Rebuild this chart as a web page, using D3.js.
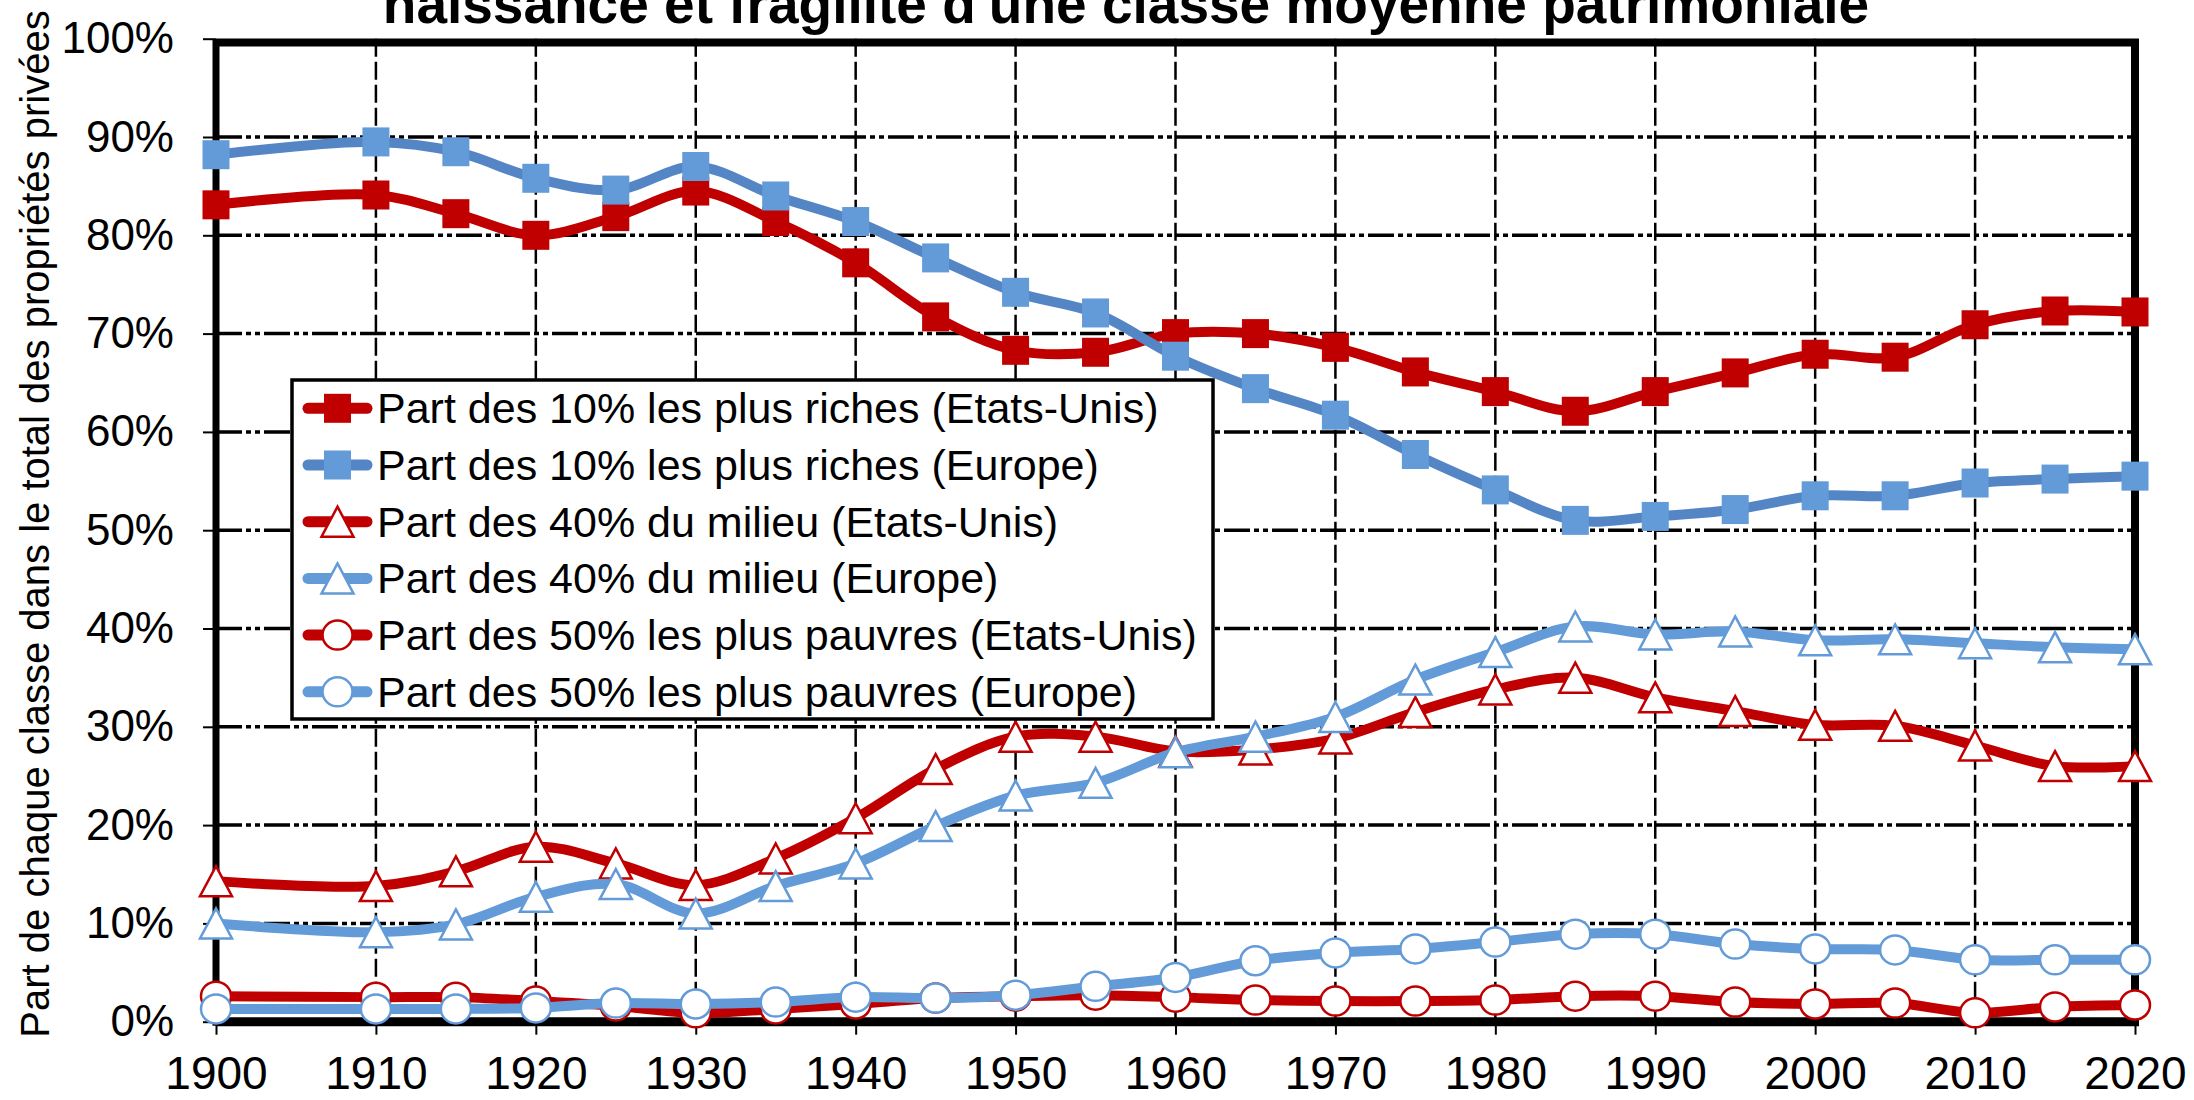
<!DOCTYPE html>
<html>
<head>
<meta charset="utf-8">
<script src="https://cdn.jsdelivr.net/npm/d3@7.9.0/dist/d3.min.js"></script>
<style>
  body { margin: 0; background: #fff; }
  svg { display: block; }
  text { font-family: "Liberation Sans", Arial, sans-serif; fill: #000; }
</style>
</head>
<body>
<svg id="chart" width="2194" height="1100"></svg>
<script>
const years = [1900, 1910, 1915, 1920, 1925, 1930, 1935, 1940, 1945, 1950, 1955, 1960,
  1965, 1970, 1975, 1980, 1985, 1990, 1995, 2000, 2005, 2010, 2015, 2020];

const usTop10 = [83.1, 84.1, 82.2, 80.0, 81.9, 84.5, 81.4, 77.2, 71.7, 68.3, 68.1, 70.0,
  70.0, 68.6, 66.1, 64.1, 62.1, 64.1, 66.0, 67.9, 67.6, 70.9, 72.3, 72.2];
const euTop10 = [88.2, 89.5, 88.5, 85.8, 84.6, 87.0, 84.0, 81.4, 77.7, 74.2, 72.1, 67.7,
  64.4, 61.7, 57.7, 54.1, 51.0, 51.4, 52.1, 53.5, 53.5, 54.8, 55.2, 55.5];
const usMid40 = [14.3, 13.8, 15.3, 17.8, 16.1, 13.9, 16.6, 20.7, 25.7, 29.0, 29.0, 27.5,
  27.7, 28.8, 31.5, 33.8, 35.0, 33.0, 31.6, 30.2, 30.1, 28.1, 26.0, 26.0];
const euMid40 = [10.0, 9.1, 9.9, 12.7, 14.0, 11.0, 13.8, 16.1, 19.9, 23.0, 24.3, 27.4,
  29.0, 31.0, 34.8, 37.6, 40.2, 39.4, 39.7, 38.8, 38.9, 38.5, 38.1, 37.9];
const usBot50 = [2.6, 2.5, 2.5, 2.1, 1.6, 0.9, 1.3, 1.8, 2.4, 2.6, 2.7, 2.5,
  2.2, 2.1, 2.1, 2.2, 2.6, 2.6, 2.0, 1.8, 1.9, 0.9, 1.5, 1.7];
const euBot50 = [1.3, 1.3, 1.3, 1.4, 1.9, 1.8, 2.0, 2.5, 2.4, 2.7, 3.6, 4.5,
  6.2, 7.0, 7.4, 8.1, 8.9, 8.9, 7.9, 7.4, 7.3, 6.3, 6.3, 6.3];

const seriesNames = [
  'Part des 10% les plus riches (Etats-Unis)',
  'Part des 10% les plus riches (Europe)',
  'Part des 40% du milieu (Etats-Unis)',
  'Part des 40% du milieu (Europe)',
  'Part des 50% les plus pauvres (Etats-Unis)',
  'Part des 50% les plus pauvres (Europe)'
];
const xTicks = [1900, 1910, 1920, 1930, 1940, 1950, 1960, 1970, 1980, 1990, 2000, 2010, 2020];
const yTicks = [0, 10, 20, 30, 40, 50, 60, 70, 80, 90, 100];

const title = 'naissance et fragilité d\'une classe moyenne patrimoniale';
const yTitle = 'Part de chaque classe dans le total des propriétés privées';

const red = '#c00000';
const blueLine = '#5486c6';
const blueMark = '#629bd8';

const series = [
  { name: seriesNames[0], values: usTop10, line: red, mark: 'square', fill: red, stroke: red },
  { name: seriesNames[1], values: euTop10, line: blueLine, mark: 'square', fill: blueMark, stroke: blueMark },
  { name: seriesNames[2], values: usMid40, line: red, mark: 'triangle', fill: '#fff', stroke: red },
  { name: seriesNames[3], values: euMid40, line: blueMark, mark: 'triangle', fill: '#fff', stroke: blueMark },
  { name: seriesNames[4], values: usBot50, line: red, mark: 'circle', fill: '#fff', stroke: red },
  { name: seriesNames[5], values: euBot50, line: blueMark, mark: 'circle', fill: '#fff', stroke: blueMark }
];

const svg = d3.select('#chart');

const x = d3.scaleLinear().domain([1900, 2020]).range([216, 2135]);
const y = d3.scaleLinear().domain([0, 100]).range([1021.7, 38.7]);

// grid
const grid = svg.append('g');
grid.selectAll('line.h')
  .data(yTicks.filter(d => d > 0 && d < 100))
  .join('line')
  .attr('x1', x(1900)).attr('x2', x(2020))
  .attr('y1', d => y(d)).attr('y2', d => y(d))
  .attr('stroke', '#000').attr('stroke-width', 3.5)
  .attr('stroke-dasharray', '26,4,5,4,5,4');
grid.selectAll('line.v')
  .data(xTicks.filter(d => d > 1900 && d < 2020))
  .join('line')
  .attr('x1', d => x(d)).attr('x2', d => x(d))
  .attr('y1', y(100)).attr('y2', y(0))
  .attr('stroke', '#000').attr('stroke-width', 2.5)
  .attr('stroke-dasharray', '18,5');

// axes
const yAxis = svg.append('g')
  .attr('transform', `translate(${x(1900)},0)`)
  .call(d3.axisLeft(y).tickValues(yTicks).tickFormat(d => d + '%').tickSize(13).tickPadding(29));
yAxis.select('.domain').remove();
yAxis.selectAll('line').attr('stroke', '#000').attr('stroke-width', 2);
yAxis.selectAll('text').attr('font-size', 44).attr('font-family', '"Liberation Sans", Arial, sans-serif');

// labels kept just inside the bottom edge
const xAxis = svg.append('g')
  .attr('transform', `translate(0,${y(0)})`)
  .call(d3.axisBottom(x).tickValues(xTicks).tickFormat(d3.format('d')).tickSize(13).tickPadding(22));
xAxis.select('.domain').remove();
xAxis.selectAll('line').attr('stroke', '#000').attr('stroke-width', 2);
xAxis.selectAll('text').attr('font-size', 46).attr('font-family', '"Liberation Sans", Arial, sans-serif');

// frame
svg.append('line').attr('x1', x(1900)).attr('x2', x(2020) + 4).attr('y1', 42.5).attr('y2', 42.5)
  .attr('stroke', '#000').attr('stroke-width', 8);
svg.append('line').attr('x1', x(2020)).attr('x2', x(2020)).attr('y1', 39).attr('y2', y(0))
  .attr('stroke', '#000').attr('stroke-width', 8);
svg.append('line').attr('x1', x(1900)).attr('x2', x(1900)).attr('y1', 39).attr('y2', y(0) + 4)
  .attr('stroke', '#000').attr('stroke-width', 7);
svg.append('line').attr('x1', x(1900)).attr('x2', x(2020) + 4).attr('y1', y(0)).attr('y2', y(0))
  .attr('stroke', '#000').attr('stroke-width', 9);

// markers
function drawMark(g, s, cx, cy) {
  if (s.mark === 'square') {
    g.append('rect')
      .attr('x', cx - 13.5).attr('y', cy - 14.5)
      .attr('width', 27).attr('height', 29)
      .attr('fill', s.fill);
  } else if (s.mark === 'triangle') {
    g.append('path')
      .attr('d', `M${cx},${cy - 15}L${cx + 16},${cy + 15}L${cx - 16},${cy + 15}Z`)
      .attr('fill', s.fill).attr('stroke', s.stroke).attr('stroke-width', 2.5);
  } else {
    g.append('ellipse')
      .attr('cx', cx).attr('cy', cy).attr('rx', 15).attr('ry', 14.5)
      .attr('fill', s.fill).attr('stroke', s.stroke).attr('stroke-width', 2.5);
  }
}

const line = d3.line()
  .x((d, i) => x(years[i]))
  .y(d => y(d))
  .curve(d3.curveCatmullRom.alpha(0.5));

series.forEach(s => {
  const g = svg.append('g');
  g.append('path')
    .attr('d', line(s.values))
    .attr('fill', 'none')
    .attr('stroke', s.line)
    .attr('stroke-width', 10)
    .attr('stroke-linejoin', 'round')
    .attr('stroke-linecap', 'round');
  s.values.forEach((v, i) => drawMark(g, s, x(years[i]), y(v)));
});

// legend
const legend = svg.append('g');
legend.append('rect')
  .attr('x', 292).attr('y', 380).attr('width', 921).attr('height', 339)
  .attr('fill', '#fff').attr('stroke', '#000').attr('stroke-width', 3.5);
series.forEach((s, i) => {
  const cy = 408.3 + i * 56.7;
  const g = legend.append('g');
  g.append('line')
    .attr('x1', 308).attr('x2', 367).attr('y1', cy).attr('y2', cy)
    .attr('stroke', s.line).attr('stroke-width', 11).attr('stroke-linecap', 'round');
  drawMark(g, s, 337.5, cy);
  g.append('text')
    .attr('x', 377).attr('y', cy)
    .attr('dy', '0.35em')
    .attr('font-size', 43)
    .text(s.name);
});

// titles
svg.append('text')
  .attr('x', 1126).attr('y', 23)
  .attr('text-anchor', 'middle')
  .attr('font-size', 55)
  .attr('font-weight', 'bold')
  .text(title);

svg.append('text')
  .attr('transform', 'translate(49,524) rotate(-90)')
  .attr('text-anchor', 'middle')
  .attr('font-size', 40)
  .text(yTitle);
</script>
</body>
</html>
